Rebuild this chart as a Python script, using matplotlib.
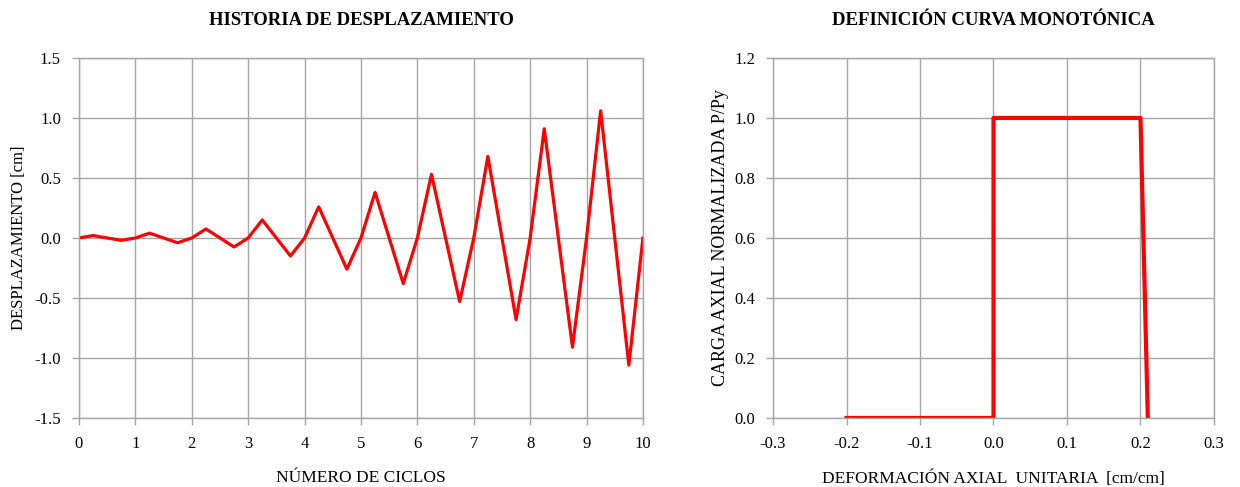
import matplotlib
matplotlib.use("Agg")
import matplotlib.pyplot as plt
import numpy as np

plt.rcParams['font.family'] = ['Liberation Serif', 'DejaVu Serif']

# Cyclic displacement history: zero at each integer cycle, peak at +0.25, trough at +0.75
cycle_amplitudes = [0.02, 0.04, 0.075, 0.15, 0.26, 0.38, 0.53, 0.68, 0.91, 1.06]

# Monotonic curve definition (strain, normalized load)
strain = [-0.2, 0.0, 0.0, 0.2, 0.21]
load = [0.0, 0.0, 1.0, 1.0, 0.0]

x_hist = []
y_hist = []
for i, a in enumerate(cycle_amplitudes):
    x_hist += [i, i + 0.25, i + 0.5, i + 0.75]
    y_hist += [0.0, a, 0.0, -a]
x_hist.append(len(cycle_amplitudes))
y_hist.append(0.0)

fig = plt.figure(figsize=(12.4, 4.87), dpi=100)
ax1 = fig.add_axes([0.0637, 0.1417, 0.4548, 0.7393])
ax2 = fig.add_axes([0.6234, 0.1417, 0.3556, 0.7393])

grid_color = '#a6a6a6'

def style(ax):
    ax.grid(True, color=grid_color, linewidth=1.0)
    ax.set_axisbelow(True)
    for s in ax.spines.values():
        s.set_color(grid_color)
        s.set_linewidth(1.0)
    ax.tick_params(axis='both', colors=grid_color, length=5, width=1.0,
                   labelcolor='black', labelsize=12, pad=8)

ax1.plot(x_hist, y_hist, color='#ff0000', linewidth=2.3)
ax1.set_xlim(0, 10)
ax1.set_ylim(-1.5, 1.5)
ax1.set_xticks(np.arange(0, 11, 1))
ax1.set_yticks(np.arange(-1.5, 1.51, 0.5))
ax1.set_yticklabels([f'{v:.1f}' for v in np.arange(-1.5, 1.51, 0.5)])
style(ax1)
ax1.set_title('HISTORIA DE DESPLAZAMIENTO', fontsize=13.5, fontweight='bold', pad=24)
ax1.set_xlabel('NÚMERO DE CICLOS', fontsize=12.5, labelpad=13)
ax1.set_ylabel('DESPLAZAMIENTO [cm]', fontsize=12, labelpad=5)

ax2.plot(strain, load, color='#ff0000', linewidth=3.0)
ax2.set_xlim(-0.3, 0.3)
ax2.set_ylim(0, 1.2)
ax2.set_xticks(np.arange(-0.3, 0.31, 0.1))
ax2.set_xticklabels([f'{v:.1f}' if abs(v) > 1e-9 else '0.0' for v in np.arange(-0.3, 0.31, 0.1)])
ax2.set_yticks(np.arange(0, 1.21, 0.2))
ax2.set_yticklabels([f'{v:.1f}' for v in np.arange(0, 1.21, 0.2)])
style(ax2)
ax2.set_title('DEFINICIÓN CURVA MONOTÓNICA', fontsize=13.5, fontweight='bold', pad=24)
ax2.set_xlabel('DEFORMACIÓN AXIAL  UNITARIA  [cm/cm]', fontsize=12.5, labelpad=13)
ax2.set_ylabel('CARGA AXIAL NORMALIZADA P/Py', fontsize=13, labelpad=4)

fig.savefig('out.png', dpi=100)
